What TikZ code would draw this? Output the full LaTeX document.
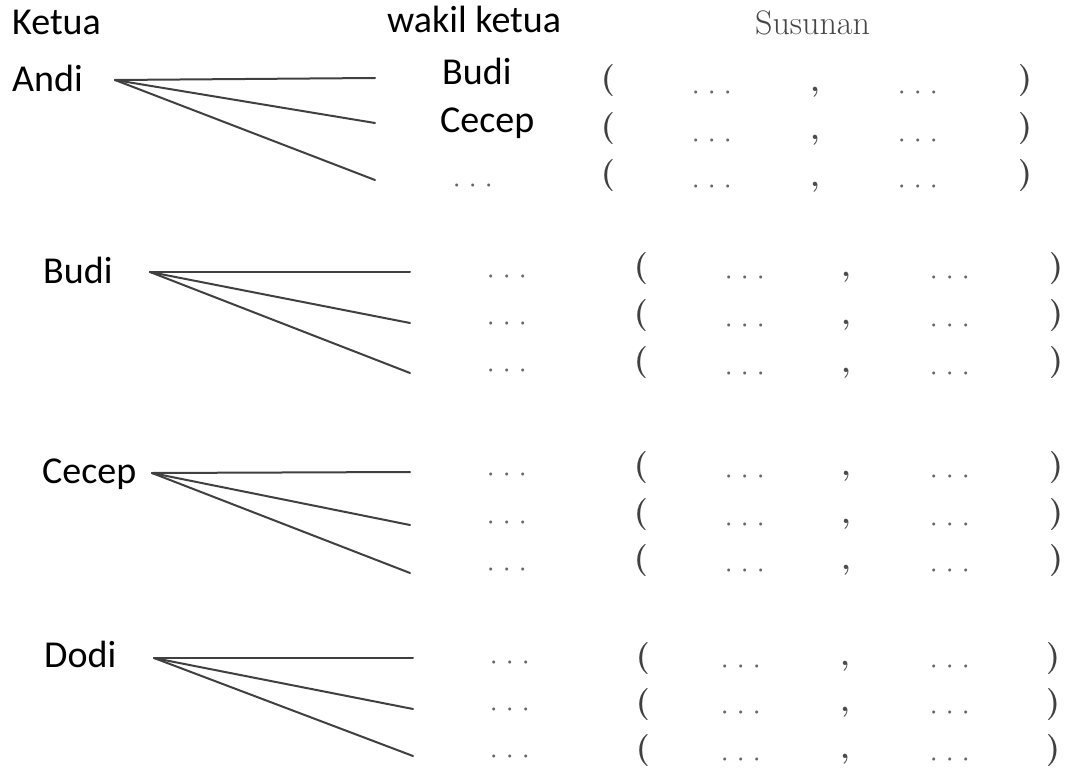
\documentclass[tikz,border=0pt]{standalone}
\usepackage{fontspec}
\newfontfamily\labelfont{Carlito}
\usetikzlibrary{calc}

% one row of the "Susunan" column: ( ... , ... )
% #1 row name, #2 bracket centre y, #3 dots y, #4 x of "(", #5 x of first dots,
% #6 x of comma, #7 x of second dots, #8 x of ")"
\newcommand\susunanrow[8]{%
  \node[bracket] (#1-l) at (#4,#2+8) {(};
  \node[ellip]   (#1-a) at (#5,#3+17) {\threedots};
  \node[sep]     (#1-c) at (#6,#3+3)  {,};
  \node[ellip]   (#1-b) at (#7,#3+17) {\threedots};
  \node[bracket] (#1-r) at (#8,#2+8) {)};
}
\newcommand\threedots{\makebox[16pt]{·}\makebox[16pt]{·}\makebox[16pt]{·}}

\begin{document}
\begin{tikzpicture}[x=1pt,y=-1pt,
  person/.style={font=\labelfont\fontsize{38}{40}\selectfont, text=black,
                 inner sep=0pt, anchor=base west},
  colhead/.style={person},
  serifhead/.style={font=\fontsize{34}{36}\selectfont, text=black!72,
                    inner sep=0pt, anchor=base west},
  branch/.style={draw=black!75, line width=2pt, line cap=round},
  bracket/.style={font=\bfseries\fontsize{32}{34}\selectfont, text=black!75,
                  inner sep=0pt, anchor=base},
  ellip/.style={font=\fontsize{38}{40}\selectfont, text=black!60,
                inner sep=0pt, anchor=base},
  sep/.style={font=\bfseries\fontsize{30}{32}\selectfont, text=black!70,
              inner sep=0pt, anchor=base},
]
\useasboundingbox (0,0) rectangle (1066,773);

% column headings
\node[colhead]   (hKetua) at (12,35)  {Ketua};
\node[colhead]   (hWakil) at (387,33) {wakil ketua};
\node[serifhead] (hSus)   at (755,35) {Susunan};

% ---------- Andi ----------
\node[person] (andi)  at (12,92)   {Andi};
\node[person] (wBudi) at (442,85)  {Budi};
\node[person] (wCece) at (440,133) {Cecep};
\node[ellip]  (wDots) at (473,182+17) {\threedots};
\coordinate (hubA) at (115,80);
\coordinate (a1) at (375,78);
\coordinate (a2) at (375,123);
\coordinate (a3) at (375,180);
\foreach \e in {a1,a2,a3} \draw[branch] (hubA) -- (\e);
\susunanrow{ra1}{81}{89}{608}{712}{815}{918}{1025}
\susunanrow{ra2}{129}{137}{608}{712}{815}{918}{1025}
\susunanrow{ra3}{175}{183}{608}{712}{815}{918}{1025}

% ---------- Budi ----------
\node[person] (budi) at (43,283) {Budi};
\coordinate (hubB) at (150,272);
\coordinate (b1) at (410,272);
\coordinate (b2) at (410,323);
\coordinate (b3) at (410,373);
\foreach \e in {b1,b2,b3} \draw[branch] (hubB) -- (\e);
\node[ellip] (mb1) at (507,272+17) {\threedots};
\node[ellip] (mb2) at (507,319+17) {\threedots};
\node[ellip] (mb3) at (507,366+17) {\threedots};
\susunanrow{rb1}{268}{273}{641}{745}{846}{950}{1056}
\susunanrow{rb2}{315}{321}{641}{745}{846}{950}{1056}
\susunanrow{rb3}{362}{369}{641}{745}{846}{950}{1056}

% ---------- Cecep ----------
\node[person] (cecep) at (42,483) {Cecep};
\coordinate (hubC) at (152,473);
\coordinate (c1) at (410,472);
\coordinate (c2) at (410,525);
\coordinate (c3) at (410,573);
\foreach \e in {c1,c2,c3} \draw[branch] (hubC) -- (\e);
\node[ellip] (mc1) at (507,470+17) {\threedots};
\node[ellip] (mc2) at (507,518+17) {\threedots};
\node[ellip] (mc3) at (507,565+17) {\threedots};
\susunanrow{rc1}{467}{472}{641}{745}{846}{950}{1056}
\susunanrow{rc2}{514}{520}{641}{745}{846}{950}{1056}
\susunanrow{rc3}{560}{566}{641}{745}{846}{950}{1056}

% ---------- Dodi ----------
\node[person] (dodi) at (44,667) {Dodi};
\coordinate (hubD) at (154,658);
\coordinate (d1) at (413,658);
\coordinate (d2) at (413,709);
\coordinate (d3) at (413,756);
\foreach \e in {d1,d2,d3} \draw[branch] (hubD) -- (\e);
\node[ellip] (md1) at (510,658+17) {\threedots};
\node[ellip] (md2) at (510,705+17) {\threedots};
\node[ellip] (md3) at (510,752+17) {\threedots};
\susunanrow{rd1}{658}{662}{643}{741}{845}{950}{1053}
\susunanrow{rd2}{704}{708}{643}{741}{845}{950}{1053}
\susunanrow{rd3}{750}{755}{643}{741}{845}{950}{1053}
\end{tikzpicture}
\end{document}
